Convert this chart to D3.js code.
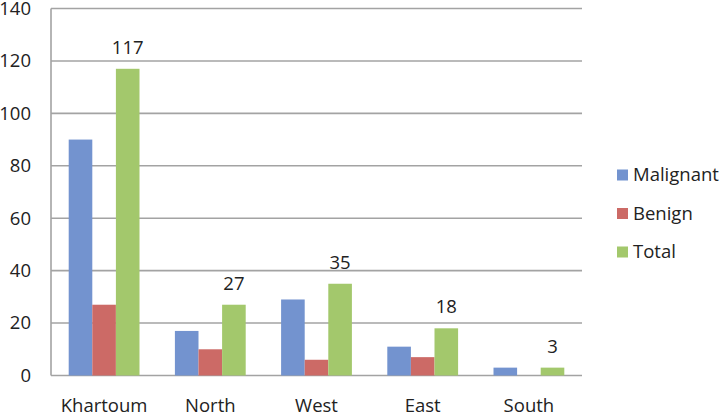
<!DOCTYPE html>
<html><head><meta charset="utf-8">
<script src="https://cdn.jsdelivr.net/npm/d3@7/dist/d3.min.js"></script>
<style>body{margin:0;background:#fff}svg{display:block}</style>
</head><body>
<svg id="c" width="721" height="416"></svg>
<script>
const categories = ["Khartoum", "North", "West", "East", "South"];
const seriesNames = ["Malignant", "Benign", "Total"];
const malignant = [90, 17, 29, 11, 3];
const benign = [27, 10, 6, 7, 0];
const total = [117, 27, 35, 18, 3];
const yTicks = [0, 20, 40, 60, 80, 100, 120, 140];
const colors = ["#7393cf", "#cc6a66", "#a3c86c"];

const series = [malignant, benign, total];
const svg = d3.select("#c");
const font = "'Open Sans', sans-serif";
const fs = 18.5;
const L = 51, R = 582, T = 8.5, B = 375.5;

const x = d3.scaleBand().domain(categories).range([L, R]).paddingInner(0).paddingOuter(0);
const y = d3.scaleLinear().domain([0, 140]).range([B, T]);
const bw = x.bandwidth();
const barW = bw / 4.5;
const xs = d3.scaleBand().domain(seriesNames).range([0, barW * 3]);

// gridlines
svg.append("g").selectAll("line").data(yTicks).join("line")
  .attr("x1", L).attr("x2", R).attr("y1", d => y(d)).attr("y2", d => y(d))
  .attr("stroke", "#a3a3a3").attr("stroke-width", 1.6);
// left axis line
svg.append("line").attr("x1", L).attr("x2", L).attr("y1", T).attr("y2", B)
  .attr("stroke", "#a3a3a3").attr("stroke-width", 1.6);

// y axis labels via d3 axis
const yAxis = svg.append("g").attr("transform", `translate(${L - 20},0)`)
  .call(d3.axisLeft(y).tickValues(yTicks).tickSize(0).tickPadding(0));
yAxis.select(".domain").remove();
yAxis.selectAll("text").attr("font-family", font).attr("font-size", fs).attr("fill", "#222");

// x axis labels
const xAxis = svg.append("g").attr("transform", `translate(0,${B})`)
  .call(d3.axisBottom(x).tickSize(0).tickPadding(23));
xAxis.select(".domain").remove();
xAxis.selectAll("text").attr("font-family", font).attr("font-size", fs).attr("fill", "#222");

// bars
seriesNames.forEach((name, si) => {
  svg.append("g").selectAll("rect").data(categories).join("rect")
    .attr("x", d => x(d) + (bw - barW * 3) / 2 + xs(name))
    .attr("width", barW)
    .attr("y", (d, i) => y(series[si][i]))
    .attr("height", (d, i) => B - y(series[si][i]))
    .attr("fill", colors[si]);
});

// labels on total
svg.append("g").selectAll("text").data(categories).join("text")
  .attr("x", d => x(d) + (bw - barW * 3) / 2 + xs("Total") + barW / 2)
  .attr("y", (d, i) => y(total[i]) - 15)
  .attr("text-anchor", "middle")
  .attr("font-family", font).attr("font-size", fs).attr("fill", "#222")
  .text((d, i) => total[i]);

// legend
const leg = svg.append("g");
seriesNames.forEach((name, i) => {
  const cy = 175 + i * 38.5;
  leg.append("rect").attr("x", 617).attr("y", cy - 5.5).attr("width", 11).attr("height", 11).attr("fill", colors[i]);
  leg.append("text").attr("x", 633).attr("y", cy).attr("dy", "0.35em")
    .attr("font-family", font).attr("font-size", fs).attr("fill", "#222").text(name);
});
</script>
</body></html>
